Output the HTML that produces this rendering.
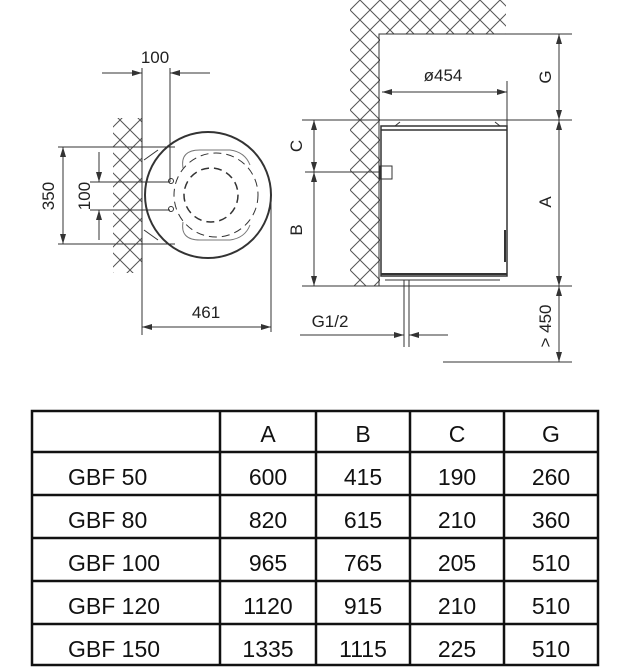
<!DOCTYPE html>
<html><head><meta charset="utf-8"><style>
body{margin:0;background:#fff;width:625px;height:670px;overflow:hidden;font-family:"Liberation Sans",sans-serif}
svg{position:absolute;left:0;top:0}
</style></head><body>
<svg width="625" height="670" viewBox="0 0 625 670" xmlns="http://www.w3.org/2000/svg">
<defs>
<pattern id="h" width="20" height="20" patternUnits="userSpaceOnUse">
<path d="M0 0L20 20M20 0L0 20" stroke="#555" stroke-width="1" fill="none"/>
</pattern>
<marker id="a" viewBox="0 0 10 6" refX="10" refY="3" markerWidth="10" markerHeight="6" orient="auto-start-reverse" markerUnits="userSpaceOnUse"><path d="M0 0L10 3L0 6z" fill="#333"/></marker>
</defs>
<g stroke="#333" stroke-width="1" fill="none">
<rect x="113" y="118" width="29" height="155" fill="url(#h)" stroke="none"/>
<line x1="142" y1="68" x2="142" y2="335"/>
<line x1="170" y1="68" x2="170" y2="182"/>
<line x1="102" y1="73" x2="142" y2="73" marker-end="url(#a)"/>
<line x1="210" y1="73" x2="170" y2="73" marker-end="url(#a)"/>
<circle cx="208" cy="195" r="63" stroke-width="2"/>
<path d="M144 160L158 150M144 230L158 240" />
<circle cx="216" cy="195" r="42" stroke-dasharray="8 5"/>
<circle cx="211" cy="195" r="27" stroke-dasharray="8 5" stroke-width="1.5"/>
<path d="M183 168Q180 150 200 150L230 150Q245 152 250 165M183 222Q180 240 200 240L230 240Q245 238 250 225" stroke="#777"/>
<circle cx="171" cy="181" r="2.5"/><circle cx="171" cy="209" r="2.5"/>
<line x1="58" y1="147" x2="175" y2="147"/>
<line x1="58" y1="244" x2="175" y2="244"/>
<line x1="90" y1="182" x2="170" y2="182"/>
<line x1="90" y1="210" x2="170" y2="210"/>
<line x1="63" y1="196" x2="63" y2="147" marker-end="url(#a)"/>
<line x1="63" y1="196" x2="63" y2="244" marker-end="url(#a)"/>
<line x1="99" y1="152" x2="99" y2="182" marker-end="url(#a)"/>
<line x1="99" y1="240" x2="99" y2="210" marker-end="url(#a)"/>
<line x1="271" y1="195" x2="271" y2="332"/>
<line x1="142" y1="327" x2="271" y2="327" marker-start="url(#a)" marker-end="url(#a)"/>
<rect x="350" y="0" width="30" height="286" fill="url(#h)" stroke="none"/>
<rect x="380" y="0" width="126" height="34" fill="url(#h)" stroke="none"/>
<polyline points="379,286 379,34 572,34"/>
<line x1="507" y1="81" x2="507" y2="126"/>
<line x1="382" y1="92" x2="507" y2="92" marker-start="url(#a)" marker-end="url(#a)"/>
<rect x="381" y="126" width="126" height="150" stroke-width="1.5"/>
<line x1="381" y1="130" x2="507" y2="130" stroke-width="1.5"/>
<line x1="381" y1="274" x2="507" y2="274" stroke-width="2"/>
<path d="M385 280L500 280M400 122L395 126M495 122L500 126"/>
<rect x="380" y="166" width="12" height="13"/>
<line x1="302" y1="120" x2="572" y2="120"/>
<line x1="302" y1="286" x2="572" y2="286"/>
<line x1="443" y1="362" x2="572" y2="362"/>
<line x1="305" y1="172" x2="380" y2="172"/>
<line x1="559" y1="34" x2="559" y2="120" marker-start="url(#a)" marker-end="url(#a)"/>
<line x1="559" y1="120" x2="559" y2="286" marker-start="url(#a)" marker-end="url(#a)"/>
<line x1="559" y1="286" x2="559" y2="362" marker-start="url(#a)" marker-end="url(#a)"/>
<line x1="314" y1="120" x2="314" y2="172" marker-start="url(#a)" marker-end="url(#a)"/>
<line x1="314" y1="172" x2="314" y2="286" marker-start="url(#a)" marker-end="url(#a)"/>
<line x1="404" y1="280" x2="404" y2="347"/>
<line x1="409" y1="280" x2="409" y2="347"/>
<line x1="300" y1="335" x2="404" y2="335" marker-end="url(#a)"/>
<line x1="448" y1="335" x2="409" y2="335" marker-end="url(#a)"/>
<line x1="505" y1="230" x2="505" y2="262" stroke-width="2"/>
</g>
<g font-family="Liberation Sans, sans-serif" font-size="17" fill="#222" text-anchor="middle">
<text x="155" y="63">100</text>
<text x="206" y="318">461</text>
<text x="443" y="81">ø454</text>
<text x="330" y="327">G1/2</text>
<text transform="translate(54,196) rotate(-90)">350</text>
<text transform="translate(90,196) rotate(-90)">100</text>
<text transform="translate(302,146) rotate(-90)">C</text>
<text transform="translate(302,230) rotate(-90)">B</text>
<text transform="translate(551,77) rotate(-90)">G</text>
<text transform="translate(551,202) rotate(-90)">A</text>
<text transform="translate(551,326) rotate(-90)">&gt; 450</text>
</g>
<g stroke="#111" stroke-width="2.5" fill="none">
<rect x="32" y="411" width="566" height="254"/>
<path d="M32 452H598M32 495H598M32 538H598M32 581H598M32 624H598M220 411V665M316 411V665M410 411V665M504 411V665"/>
</g>
<g font-family="Liberation Sans, sans-serif" font-size="23" fill="#111" text-anchor="middle">
<text x="268" y="442">A</text><text x="363" y="442">B</text><text x="457" y="442">C</text><text x="551" y="442">G</text>
<g text-anchor="start"><text x="68" y="485">GBF 50</text><text x="68" y="528">GBF 80</text><text x="68" y="571">GBF 100</text><text x="68" y="614">GBF 120</text><text x="68" y="657">GBF 150</text></g>
<text x="268" y="485">600</text><text x="363" y="485">415</text><text x="457" y="485">190</text><text x="551" y="485">260</text>
<text x="268" y="528">820</text><text x="363" y="528">615</text><text x="457" y="528">210</text><text x="551" y="528">360</text>
<text x="268" y="571">965</text><text x="363" y="571">765</text><text x="457" y="571">205</text><text x="551" y="571">510</text>
<text x="268" y="614">1120</text><text x="363" y="614">915</text><text x="457" y="614">210</text><text x="551" y="614">510</text>
<text x="268" y="657">1335</text><text x="363" y="657">1115</text><text x="457" y="657">225</text><text x="551" y="657">510</text>
</g>
</svg>
</body></html>
